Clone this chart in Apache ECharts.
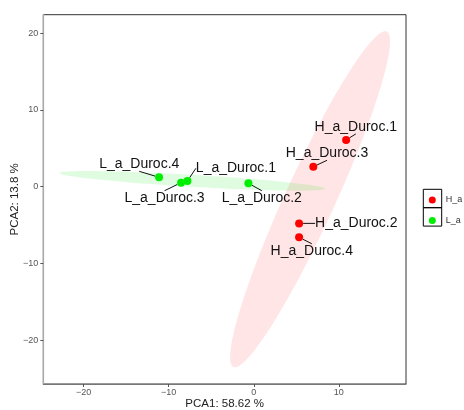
<!DOCTYPE html>
<html><head><meta charset="utf-8">
<script src="https://cdn.jsdelivr.net/npm/echarts@6/dist/echarts.min.js"></script>
<style>html,body{margin:0;padding:0;background:#fff}#c{width:464px;height:410px}</style>
</head><body><div id="c"></div>
<script>
// ---- data ----
const groups = ['H_a', 'L_a'];
const hNames = ['H_a_Duroc.1', 'H_a_Duroc.2', 'H_a_Duroc.3', 'H_a_Duroc.4'];
const hPCA1 = [10.86, 5.33, 7.0, 5.33];
const hPCA2 = [6.09, -4.78, 2.6, -6.6];
const lNames = ['L_a_Duroc.1', 'L_a_Duroc.2', 'L_a_Duroc.3', 'L_a_Duroc.4'];
const lPCA1 = [-7.8, -0.63, -8.55, -11.14];
const lPCA2 = [0.74, 0.44, 0.52, 1.22];
const xTicks = [-20, -10, 0, 10];
const yTicks = [-20, -10, 0, 10, 20];
// 95% confidence ellipses: centre and two semi-axis vectors (data units)
const hEllipseCenter = [6.62, -1.63];
const hEllipseMajor = [9.02, 21.84];
const hEllipseMinor = [2.67, -1.36];
const lEllipseCenter = [-7.24, 0.76];
const lEllipseMajor = [15.63, -1.02];
const lEllipseMinor = [-0.04, -0.78];

// ---- label placement (styling, in pixels) ----
const hLabelOffset = [[9.7, -13], [57.2, 0], [13.7, -13.4], [12.7, 13.4]];
const lLabelOffset = [[48.5, -12.7], [13.4, 14.4], [-16.5, 15], [-19.8, -13]];

function ellipsePoints(c, a, b, n) {
  const pts = [];
  for (let i = 0; i < n; i++) {
    const t = 2 * Math.PI * i / n;
    pts.push([c[0] + Math.cos(t) * a[0] + Math.sin(t) * b[0],
              c[1] + Math.cos(t) * a[1] + Math.sin(t) * b[1]]);
  }
  return pts;
}
function ellipseSeries(name, c, a, b, fill) {
  const pts = ellipsePoints(c, a, b, 120);
  return {
    type: 'custom', name: name, silent: true, z: 1,
    data: [c],
    renderItem: (params, api) => ({
      type: 'polygon',
      shape: { points: pts.map(p => api.coord(p)) },
      style: { fill: fill, stroke: null }
    })
  };
}
function pointSeries(name, names, xs, ys, color, offsets) {
  return {
    type: 'scatter', name: name, z: 5,
    symbol: 'circle', symbolSize: 8,
    itemStyle: { color: color, opacity: 1 },
    data: xs.map((x, i) => ({ name: names[i], value: [x, ys[i]] })),
    label: {
      show: true, position: 'inside', formatter: p => p.name,
      fontFamily: 'Liberation Sans, Arial, sans-serif', fontSize: 14, color: '#111'
    },
    labelLayout: p => ({ dx: offsets[p.dataIndex][0], dy: offsets[p.dataIndex][1] }),
    labelLine: { show: true, lineStyle: { color: '#111', width: 1 } },
    emphasis: { disabled: true }
  };
}
const minus = v => String(v).replace('-', '\u2212');

const chart = echarts.init(document.getElementById('c'), null, { renderer: 'canvas' });
chart.setOption({
  animation: false,
  backgroundColor: '#fff',
  grid: { left: 43.3, right: 58, top: 14.7, bottom: 26, outerBoundsMode: 'none', containLabel: false,
          show: true, borderColor: '#333', borderWidth: 1, backgroundColor: 'transparent' },
  xAxis: {
    type: 'value', min: -24.75, max: 17.9,
    name: 'PCA1: 58.62 %', nameLocation: 'middle', nameGap: 14, nameMoveOverlap: false,
    nameTextStyle: { fontFamily: 'Liberation Sans, Arial, sans-serif', fontSize: 11.5, color: '#222' },
    splitLine: { show: false },
    axisLine: { show: true, onZero: false, lineStyle: { color: '#777', width: 1.2 } },
    axisTick: { show: true, length: 3, customValues: xTicks, lineStyle: { color: '#555' } },
    axisLabel: { customValues: xTicks, formatter: minus, margin: 4, fontSize: 9, color: '#555', fontFamily: 'Liberation Sans, Arial, sans-serif' }
  },
  yAxis: {
    type: 'value', min: -25.7, max: 22.4,
    name: 'PCA2: 13.8 %', nameLocation: 'middle', nameGap: 22, nameMoveOverlap: false,
    nameTextStyle: { fontFamily: 'Liberation Sans, Arial, sans-serif', fontSize: 11.5, color: '#222' },
    splitLine: { show: false },
    axisLine: { show: true, onZero: false, lineStyle: { color: '#aaa', width: 1.2 } },
    axisTick: { show: true, length: 3, customValues: yTicks, lineStyle: { color: '#555' } },
    axisLabel: { customValues: yTicks, formatter: minus, margin: 5, fontSize: 9, color: '#555', fontFamily: 'Liberation Sans, Arial, sans-serif' }
  },
  legend: {
    data: [{ name: groups[0], icon: 'circle' }, { name: groups[1], icon: 'circle' }],
    orient: 'vertical', left: 428.8, top: 195.5, padding: 0,
    itemWidth: 7, itemHeight: 7, itemGap: 11.4,
    textStyle: { fontSize: 9, color: '#333', lineHeight: 7, fontFamily: 'Liberation Sans, Arial, sans-serif', padding: [0, 0, 0, 5] },
    selectedMode: false
  },
  graphic: [
    { type: 'rect', shape: { x: 423.3, y: 189.3, width: 18.4, height: 18.4 }, style: { fill: 'none', stroke: '#000', lineWidth: 1 } },
    { type: 'rect', shape: { x: 423.3, y: 207.7, width: 18.4, height: 18.4 }, style: { fill: 'none', stroke: '#000', lineWidth: 1 } }
  ],
  series: [
    ellipseSeries('H ellipse', hEllipseCenter, hEllipseMajor, hEllipseMinor, 'rgba(255,0,0,0.1)'),
    ellipseSeries('L ellipse', lEllipseCenter, lEllipseMajor, lEllipseMinor, 'rgba(0,230,0,0.12)'),
    pointSeries(groups[0], hNames, hPCA1, hPCA2, '#FF0000', hLabelOffset),
    pointSeries(groups[1], lNames, lPCA1, lPCA2, '#00EE00', lLabelOffset)
  ]
});
</script>
</body></html>
